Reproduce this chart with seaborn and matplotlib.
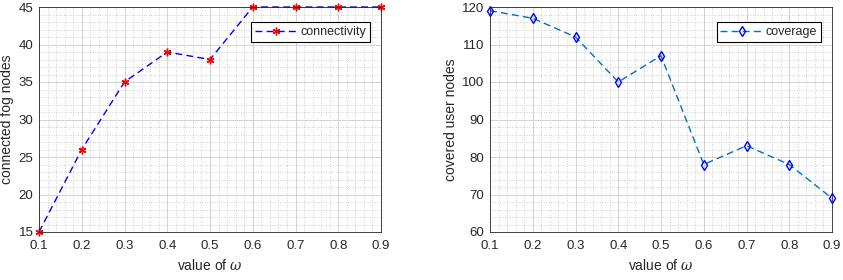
import numpy as np
import pandas as pd
import matplotlib
matplotlib.use('Agg')
import matplotlib.pyplot as plt
import seaborn as sns
from matplotlib.ticker import MultipleLocator

# data
omega = [0.1, 0.2, 0.3, 0.4, 0.5, 0.6, 0.7, 0.8, 0.9]
connectivity = [15, 26, 35, 39, 38, 45, 45, 45, 45]
coverage = [119, 117, 112, 100, 107, 78, 83, 78, 69]

sns.set_style('white')
plt.rcParams['font.family'] = ['Liberation Sans', 'DejaVu Sans']
plt.rcParams['font.size'] = 9
plt.rcParams['mathtext.fontset'] = 'dejavuserif'

df = pd.DataFrame({'omega': omega, 'connectivity': connectivity, 'coverage': coverage})

fig = plt.figure(figsize=(8.43, 2.8), dpi=100)
ax1 = fig.add_axes([39 / 843, 48 / 280, 342 / 843, 225 / 280])
ax2 = fig.add_axes([490 / 843, 48 / 280, 342 / 843, 225 / 280])

# matlab-like asterisk marker
star = (6, 2, 0)

sns.lineplot(data=df, x='omega', y='connectivity', ax=ax1, color='blue',
             linestyle=(0, (5, 3)), linewidth=1.0, marker=star, markersize=5.5,
             markerfacecolor='red', markeredgecolor='red', markeredgewidth=1.0,
             label='connectivity', clip_on=False)
sns.lineplot(data=df, x='omega', y='coverage', ax=ax2, color='#0072BD',
             linestyle=(0, (5, 3)), linewidth=1.0, marker='d', markersize=5.5,
             markerfacecolor='none', markeredgecolor='blue', markeredgewidth=1.0,
             label='coverage', clip_on=False)

ax1.set_ylim(15, 45)
ax1.yaxis.set_major_locator(MultipleLocator(5))
ax1.yaxis.set_minor_locator(MultipleLocator(1))
ax1.set_ylabel('connected fog nodes', fontsize=10, color='#262626', labelpad=3)

ax2.set_ylim(60, 120)
ax2.yaxis.set_major_locator(MultipleLocator(10))
ax2.yaxis.set_minor_locator(MultipleLocator(2))
ax2.set_ylabel('covered user nodes', fontsize=10, color='#262626', labelpad=3)

for ax in (ax1, ax2):
    ax.set_xlim(0.1, 0.9)
    ax.set_xticks(omega)
    ax.set_xticklabels([f'{v:.1f}' for v in omega])
    ax.xaxis.set_minor_locator(MultipleLocator(0.02))
    ax.set_xlabel(r'value of $\omega$', fontsize=10, color='#262626', labelpad=4)
    ax.grid(which='major', color='#cccccc', linewidth=0.6)
    ax.grid(which='minor', color='#a8a8a8', linestyle=(0, (1, 2.5)), linewidth=0.5)
    ax.set_axisbelow(True)
    for s in ax.spines.values():
        s.set_color('#262626')
        s.set_linewidth(0.6)
    ax.tick_params(which='both', direction='in', length=0, colors='#262626',
                   labelsize=9.5, pad=4)
    ax.tick_params(axis='x', pad=6)
    leg = ax.legend(loc='upper right', fontsize=9, frameon=True, fancybox=False,
                    edgecolor='black', framealpha=1, borderpad=0.3,
                    handlelength=3.4, handletextpad=0.2, bbox_to_anchor=(0.985, 0.96))
    leg.get_frame().set_linewidth(0.8)

fig.savefig('out.png', dpi=100)
